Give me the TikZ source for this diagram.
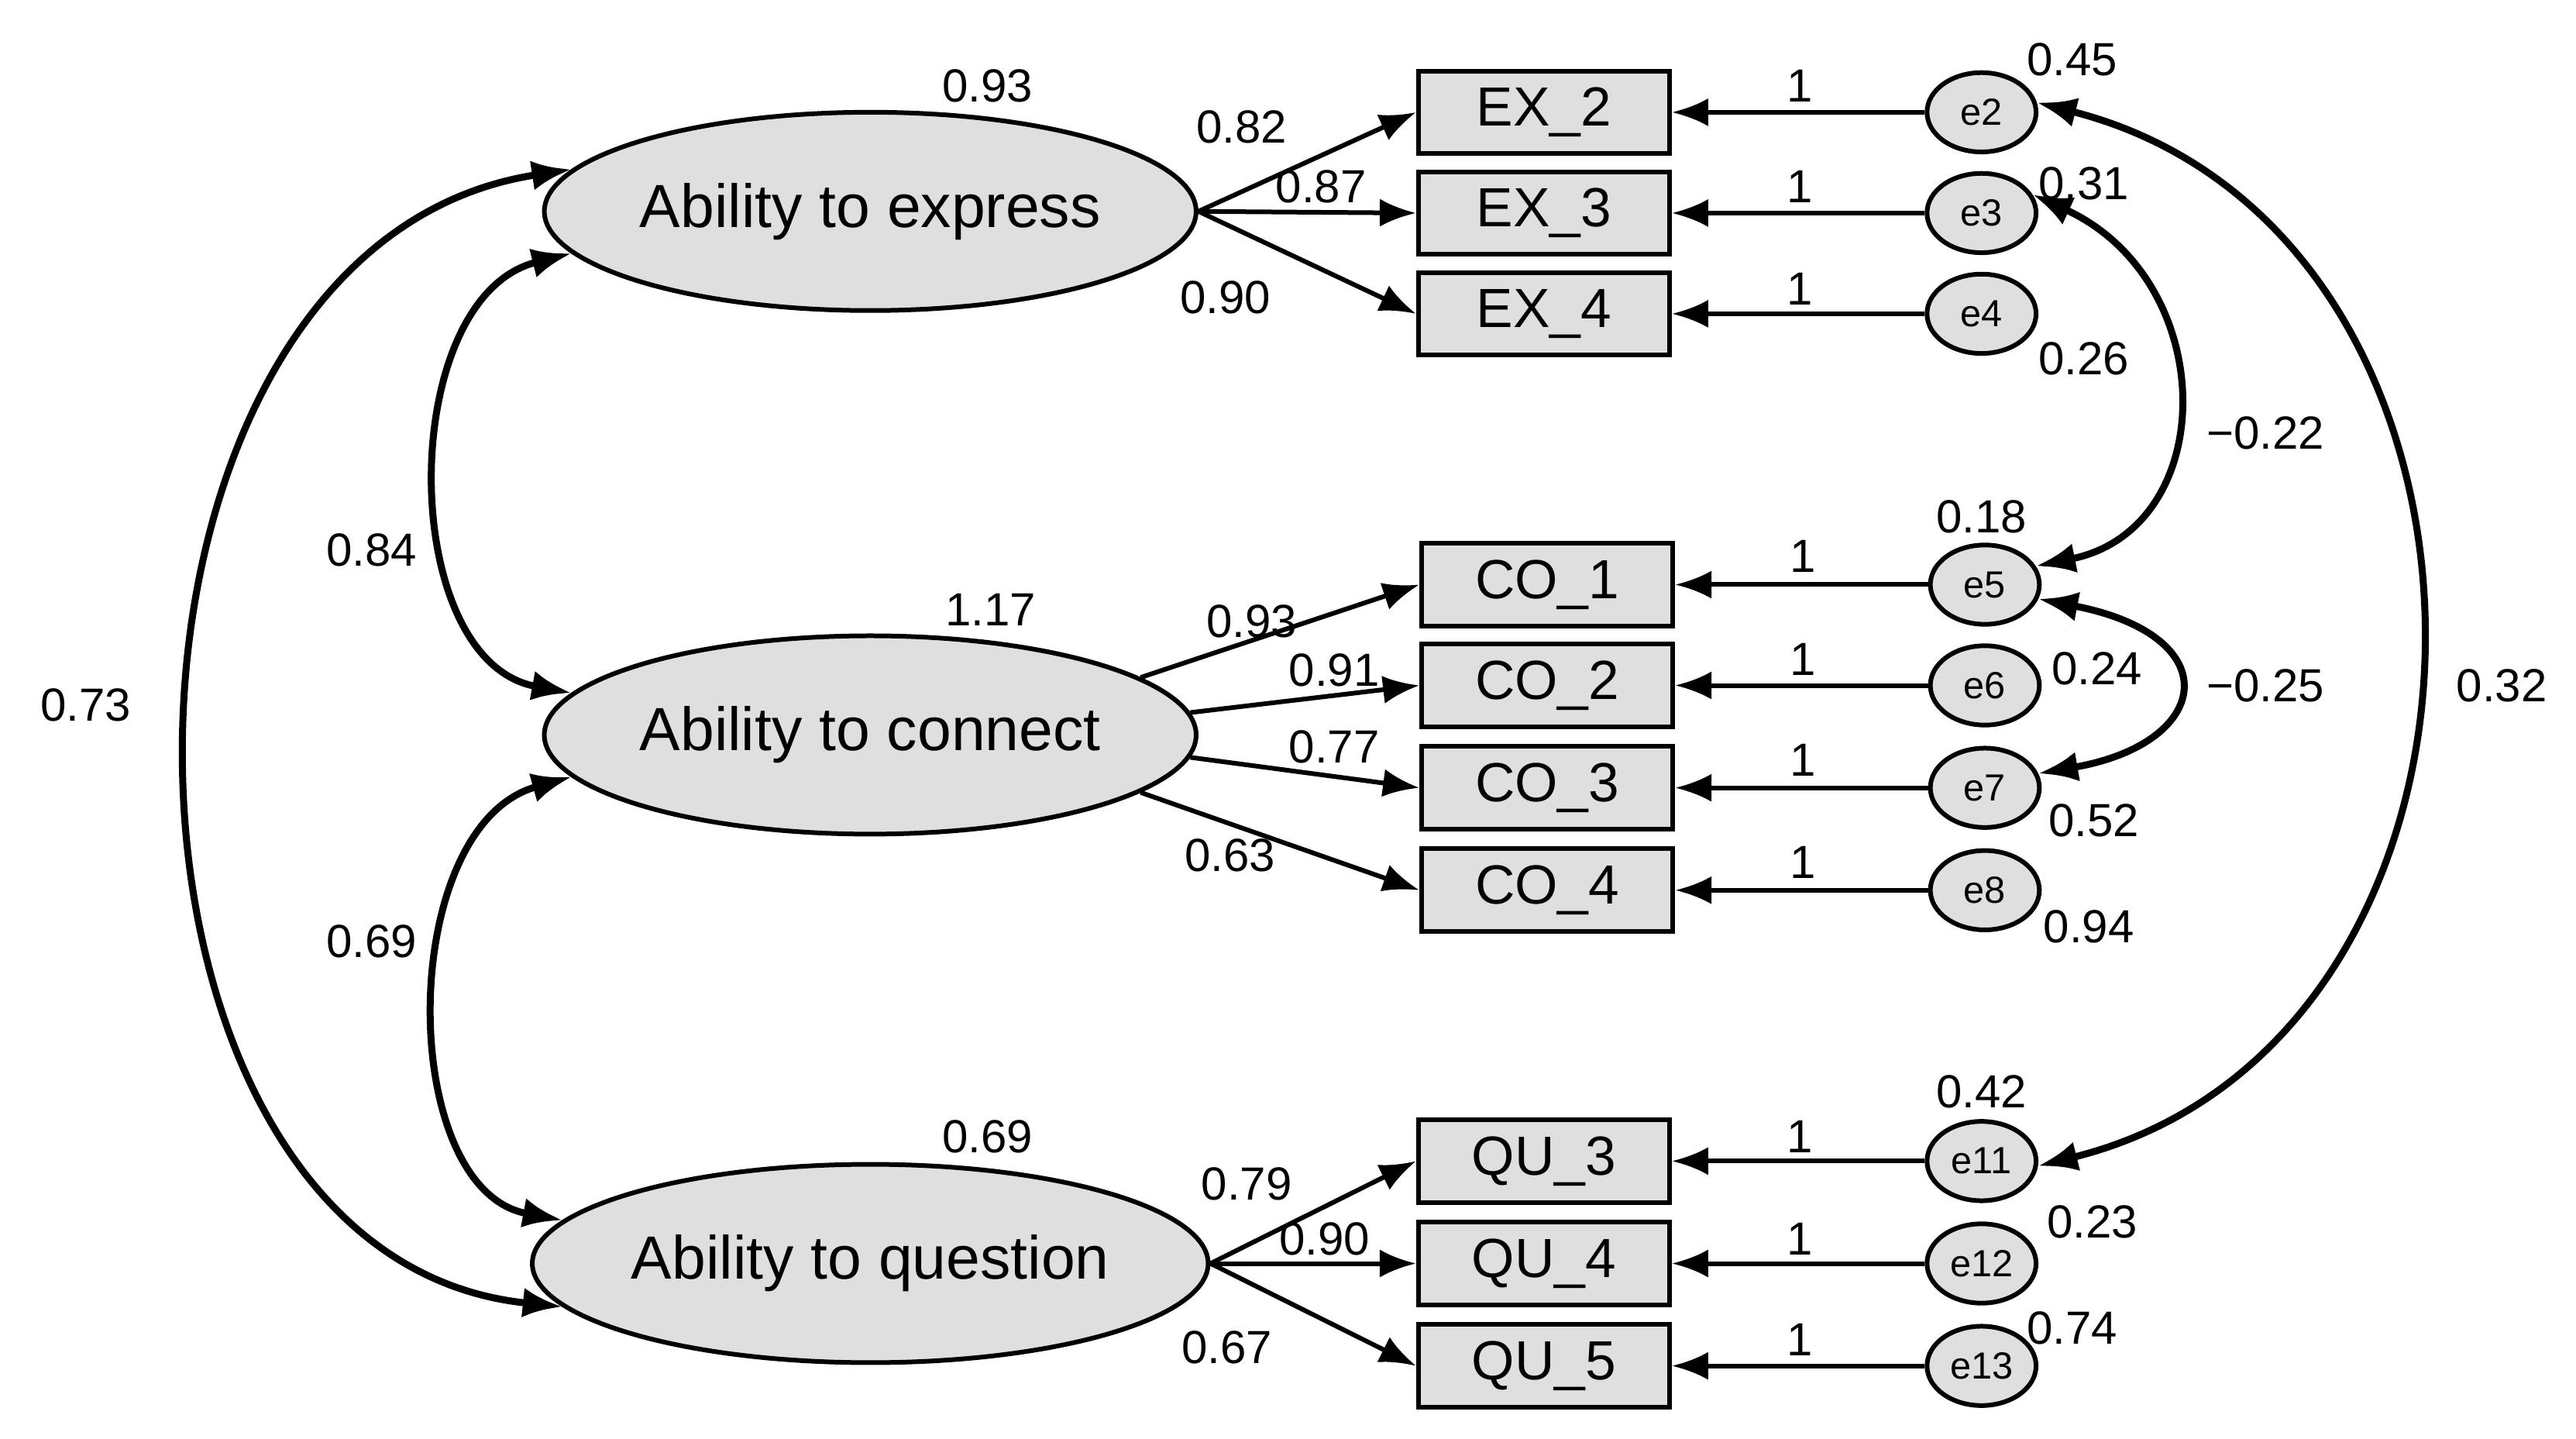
\documentclass[tikz,border=0pt]{standalone}
\usepackage{fontspec}
\setmainfont{Liberation Sans}
\usetikzlibrary{shapes.geometric,arrows.meta}
\begin{document}
\begin{tikzpicture}[x=0.01cm,y=-0.01cm,
  lat/.style={ellipse,draw,line width=0.8pt,fill=gray!25,minimum width=356\pgflinewidth*0+3.56cm,minimum height=1.2cm,inner sep=0pt,font=\fontsize{10.5}{12}\selectfont},
  obs/.style={rectangle,draw,line width=0.8pt,fill=gray!25,minimum width=1.52cm,minimum height=0.5cm,inner sep=0pt,font=\fontsize{9.5}{11}\selectfont},
  err/.style={ellipse,draw,line width=0.8pt,fill=gray!25,minimum width=0.66cm,minimum height=0.48cm,inner sep=0pt,font=\fontsize{6.5}{8}\selectfont},
  pth/.style={line width=0.8pt,-{Latex[length=0.22cm,width=0.17cm]}},
  cov/.style={line width=1.2pt,{Latex[length=0.24cm,width=0.18cm]}-{Latex[length=0.24cm,width=0.18cm]}},
  lb/.style={font=\fontsize{8}{10}\selectfont,inner sep=0pt}]
\useasboundingbox (0,0) rectangle (1560,871);
\node[lat] (ex) at (527,128) {Ability to express};
\node[lat] (co) at (527,445) {Ability to connect};
\node[lat] (qu) at (527,765) {Ability to question};
\foreach \n/\t/\y in {EX2/EX\_2/68,EX3/EX\_3/129,EX4/EX\_4/190,QU3/QU\_3/703,QU4/QU\_4/765,QU5/QU\_5/827}
  \node[obs] (\n) at (935,\y) {\t};
\foreach \n/\t/\y in {CO1/CO\_1/354,CO2/CO\_2/415,CO3/CO\_3/477,CO4/CO\_4/539}
  \node[obs] (\n) at (937,\y) {\t};
\foreach \n/\y/\b in {e2/68/EX2,e3/129/EX3,e4/190/EX4,e11/703/QU3,e12/765/QU4,e13/827/QU5}
  {\node[err] (\n) at (1200,\y) {\n};
   \draw[pth] (\n) -- (\b);}
\foreach \n/\y/\b in {e5/354/CO1,e6/415/CO2,e7/477/CO3,e8/539/CO4}
  {\node[err] (\n) at (1202,\y) {\n};
   \draw[pth] (\n) -- (\b);}
\draw[pth] (ex.east) -- (EX2.west);
\draw[pth] (ex.east) -- (EX3.west);
\draw[pth] (ex.east) -- (EX4.west);
\draw[pth] (co.12) -- (CO1.west);
\draw[pth] (co.4) -- (CO2.west);
\draw[pth] (co.-4) -- (CO3.west);
\draw[pth] (co.-12) -- (CO4.west);
\draw[pth] (qu.east) -- (QU3.west);
\draw[pth] (qu.east) -- (QU4.west);
\draw[pth] (qu.east) -- (QU5.west);
% covariances
\draw[cov] (ex.188) .. controls (240,180) and (240,400) .. (co.172);
\draw[cov] (co.188) .. controls (240,500) and (240,720) .. (qu.172);
\draw[cov] (ex.172) .. controls (40,150) and (40,760) .. (qu.188);
\draw[cov] (e3.20) .. controls (1345,170) and (1345,320) .. (e5.20);
\draw[cov] (e5.-15) .. controls (1350,385) and (1340,450) .. (e7.15);
\draw[cov] (e2.10) .. controls (1540,140) and (1540,630) .. (e11.-5);
% labels
\foreach \x/\y/\t in {598/52/0.93,752/77/0.82,800/113/0.87,742/180/0.90,
 1090/52/1,1090/113/1,1090/175/1,1255/36/0.45,1262/111/0.31,1262/217/0.26,
 1372/262/−0.22,1200/313/0.18,1270/405/0.24,1372/415/−0.25,1268/497/0.52,1265/561/0.94,
 1515/415/0.32,1200/661/0.42,1267/740/0.23,1255/804/0.74,
 600/369/1.17,758/376/0.93,808/406/0.91,808/452/0.77,745/518/0.63,
 1092/337/1,1092/399/1,1092/460/1,1092/522/1,
 598/688/0.69,755/717/0.79,802/750/0.90,743/816/0.67,
 1090/688/1,1090/750/1,1090/811/1,225/333/0.84,225/570/0.69,52/427/0.73}
  \node[lb] at (\x,\y) {\t};
\end{tikzpicture}
\end{document}
